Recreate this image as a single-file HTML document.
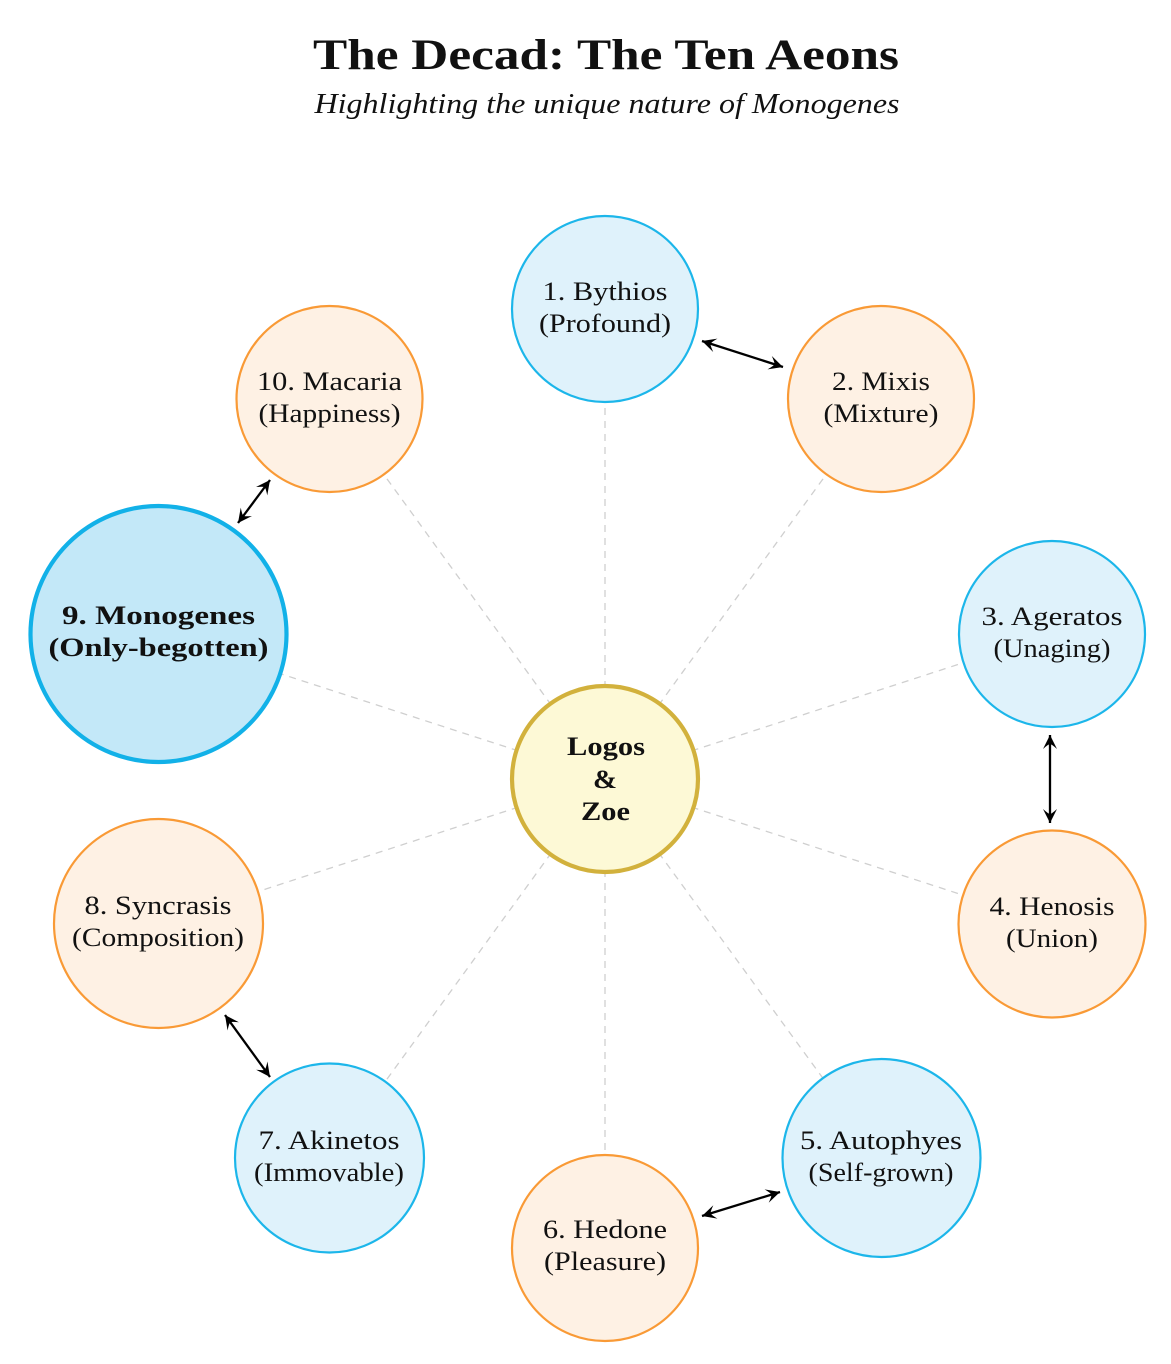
<!DOCTYPE html>
<html>
<head>
<meta charset="utf-8">
<style>
  html, body { margin: 0; padding: 0; background: #ffffff; }
  svg { display: block; }
  text { font-family: "Liberation Serif", "DejaVu Serif", serif; fill: #111; }
</style>
</head>
<body>
<svg width="1171" height="1364" viewBox="0 0 1171 1364" xmlns="http://www.w3.org/2000/svg">
  <defs>
    <marker id="ah" viewBox="-15 -8 16 16" refX="0" refY="0" markerWidth="16" markerHeight="16" markerUnits="userSpaceOnUse" orient="auto-start-reverse">
      <path d="M0,0 L-14,-7 Q-9,-1.5 -9,0 Q-9,1.5 -14,7 Z" fill="#000"/>
    </marker>
  </defs>

  <!-- Title -->
  <text x="606" y="69" text-anchor="middle" font-size="43" font-weight="bold" textLength="586" lengthAdjust="spacingAndGlyphs">The Decad:  The Ten Aeons</text>
  <text x="607" y="113" text-anchor="middle" font-size="28" font-style="italic" textLength="585" lengthAdjust="spacingAndGlyphs">Highlighting the unique nature of Monogenes</text>

  <!-- Dashed spokes -->
  <g stroke="#cfcfcf" stroke-width="1.3" stroke-dasharray="7 6" fill="none">
    <line x1="605" y1="779" x2="605" y2="309"/>
    <line x1="605" y1="779" x2="881" y2="399"/>
    <line x1="605" y1="779" x2="1052" y2="634"/>
    <line x1="605" y1="779" x2="1052" y2="924"/>
    <line x1="605" y1="779" x2="881" y2="1158"/>
    <line x1="605" y1="779" x2="605" y2="1248"/>
    <line x1="605" y1="779" x2="329" y2="1159"/>
    <line x1="605" y1="779" x2="158" y2="924"/>
    <line x1="605" y1="779" x2="158" y2="634"/>
    <line x1="605" y1="779" x2="329" y2="399"/>
  </g>

  <!-- Nodes -->
  <g stroke-width="2.2">
    <circle cx="605" cy="309" r="93" fill="#dff2fb" stroke="#1cb6ea"/>
    <circle cx="881" cy="399" r="93" fill="#fef1e4" stroke="#f99a36"/>
    <circle cx="1052" cy="634" r="93" fill="#dff2fb" stroke="#1cb6ea"/>
    <circle cx="1052" cy="924" r="93.5" fill="#fef1e4" stroke="#f99a36"/>
    <circle cx="881.5" cy="1158" r="99" fill="#dff2fb" stroke="#1cb6ea"/>
    <circle cx="605" cy="1248" r="93" fill="#fef1e4" stroke="#f99a36"/>
    <circle cx="329.5" cy="1158" r="94.5" fill="#dff2fb" stroke="#1cb6ea"/>
    <circle cx="158.5" cy="923.5" r="104.5" fill="#fef1e4" stroke="#f99a36"/>
    <circle cx="329.5" cy="399" r="93" fill="#fef1e4" stroke="#f99a36"/>
  </g>
  <circle cx="158.5" cy="634" r="128" fill="#c3e8f8" stroke="#12b1e8" stroke-width="4.2"/>
  <circle cx="605" cy="779" r="93" fill="#fdf9d6" stroke="#d2b13c" stroke-width="4.2"/>

  <!-- Arrows -->
  <g stroke="#000" stroke-width="2.3" fill="none" marker-start="url(#ah)" marker-end="url(#ah)">
    <line x1="702" y1="341" x2="783" y2="367"/>
    <line x1="1050" y1="735" x2="1050" y2="823"/>
    <line x1="702" y1="1216" x2="780" y2="1192"/>
    <line x1="225" y1="1015" x2="270" y2="1077"/>
    <line x1="238" y1="523" x2="270" y2="480"/>
  </g>

  <!-- Node labels -->
  <g font-size="26" text-anchor="middle">
    <text x="605" y="300" textLength="125" lengthAdjust="spacingAndGlyphs">1.  Bythios</text>
    <text x="605" y="332" textLength="132" lengthAdjust="spacingAndGlyphs">(Profound)</text>

    <text x="881" y="390" textLength="98" lengthAdjust="spacingAndGlyphs">2.  Mixis</text>
    <text x="881" y="422" textLength="115" lengthAdjust="spacingAndGlyphs">(Mixture)</text>

    <text x="1052" y="625" textLength="141" lengthAdjust="spacingAndGlyphs">3.  Ageratos</text>
    <text x="1052" y="657" textLength="117" lengthAdjust="spacingAndGlyphs">(Unaging)</text>

    <text x="1052" y="915" textLength="125" lengthAdjust="spacingAndGlyphs">4.  Henosis</text>
    <text x="1052" y="947" textLength="92" lengthAdjust="spacingAndGlyphs">(Union)</text>

    <text x="881" y="1149" textLength="162" lengthAdjust="spacingAndGlyphs">5.  Autophyes</text>
    <text x="881" y="1181" textLength="145" lengthAdjust="spacingAndGlyphs">(Self-grown)</text>

    <text x="605" y="1238" textLength="124" lengthAdjust="spacingAndGlyphs">6.  Hedone</text>
    <text x="605" y="1270" textLength="122" lengthAdjust="spacingAndGlyphs">(Pleasure)</text>

    <text x="329" y="1149" textLength="141" lengthAdjust="spacingAndGlyphs">7.  Akinetos</text>
    <text x="329" y="1181" textLength="150" lengthAdjust="spacingAndGlyphs">(Immovable)</text>

    <text x="158" y="914" textLength="147" lengthAdjust="spacingAndGlyphs">8.  Syncrasis</text>
    <text x="158" y="946" textLength="172" lengthAdjust="spacingAndGlyphs">(Composition)</text>

    <text x="329.5" y="390" textLength="145" lengthAdjust="spacingAndGlyphs">10.  Macaria</text>
    <text x="329.5" y="422" textLength="142" lengthAdjust="spacingAndGlyphs">(Happiness)</text>
  </g>
  <g font-size="26" font-weight="bold" text-anchor="middle">
    <text x="158.5" y="624" textLength="193" lengthAdjust="spacingAndGlyphs">9.  Monogenes</text>
    <text x="158.5" y="656" textLength="220" lengthAdjust="spacingAndGlyphs">(Only-begotten)</text>

    <text x="606" y="755" textLength="78" lengthAdjust="spacingAndGlyphs">Logos</text>
    <text x="605" y="788" textLength="24" lengthAdjust="spacingAndGlyphs">&amp;</text>
    <text x="605.5" y="820" textLength="49" lengthAdjust="spacingAndGlyphs">Zoe</text>
  </g>
</svg>
</body>
</html>
